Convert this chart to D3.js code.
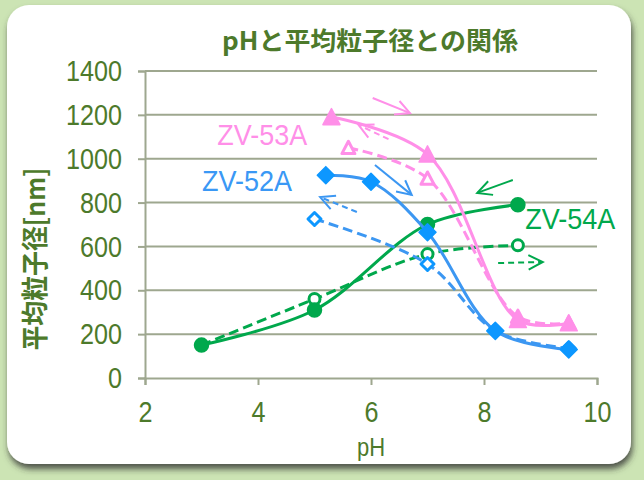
<!DOCTYPE html>
<html>
<head>
<meta charset="utf-8">
<script src="https://cdn.jsdelivr.net/npm/d3@7/dist/d3.min.js"></script>
<style>
  html, body { margin: 0; padding: 0; background: #cce4b4; }
  svg { display: block; }
</style>
</head>
<body>
<svg id="chart" width="644" height="480"></svg>
<script>
// ---- measured particle size (nm) versus pH ----
const phZV53A      = [5.3, 7.0, 8.6, 9.5];
const sizeZV53A    = [1190, 1020, 265, 250];
const phZV53Aopen  = [5.6, 7.0, 8.6, 9.5];
const sizeZV53Aopen = [1050, 910, 280, 250];

const phZV52A      = [5.2, 6.0, 7.0, 8.2, 9.5];
const sizeZV52A    = [925, 895, 665, 215, 130];
const phZV52Aopen  = [5.0, 7.0, 8.2, 9.5];
const sizeZV52Aopen = [725, 520, 215, 135];

const phZV54A      = [3.0, 5.0, 7.0, 8.6];
const sizeZV54A    = [150, 310, 700, 790];
const phZV54Aopen  = [3.0, 5.0, 7.0, 8.6];
const sizeZV54Aopen = [150, 360, 565, 605];

const xTicks = [2, 4, 6, 8, 10];
const yTicks = [0, 200, 400, 600, 800, 1000, 1200, 1400];

const titleText = "pHと平均粒子径との関係";
const xTitle = "pH";
const yTitle = "平均粒子径[nm]";

// ---- drawing ----
const svg = d3.select("#chart");
const W = 644, H = 480;
const green = "#4d7a2b";
const gridColor = "#9ea78f";
const PINK = "#ff8fe8", BLUE_LINE = "#3c97f2", BLUE_MARK = "#0d97ff", GREEN = "#00a84c";

const defs = svg.append("defs");
const f = defs.append("filter").attr("id", "panelShadow")
  .attr("x", "-5%").attr("y", "-5%").attr("width", "110%").attr("height", "115%");
f.append("feDropShadow").attr("dx", 1.5).attr("dy", 5).attr("stdDeviation", 3.2)
  .attr("flood-color", "#333").attr("flood-opacity", 0.8);

svg.append("rect").attr("width", W).attr("height", H).attr("fill", "#cce4b4");
svg.append("rect").attr("x", 7).attr("y", 5).attr("width", 624).attr("height", 459)
  .attr("rx", 22).attr("ry", 22).attr("fill", "#fff").attr("filter", "url(#panelShadow)");

const x = d3.scaleLinear().domain([2, 10]).range([145, 597]);
const y = d3.scaleLinear().domain([0, 1400]).range([378, 71]);

// horizontal gridlines
svg.append("g").selectAll("line").data(yTicks.filter(d => d > 0)).join("line")
  .attr("x1", x(2)).attr("x2", x(10))
  .attr("y1", d => y(d)).attr("y2", d => y(d))
  .attr("stroke", gridColor).attr("stroke-width", 2);

const squeeze = 0.84;

// y axis
const yAxis = svg.append("g").attr("transform", `translate(${x(2)},0)`)
  .call(d3.axisLeft(y).tickValues(yTicks).tickSize(7).tickPadding(16).tickFormat(d3.format("d")));
yAxis.select(".domain").attr("stroke", gridColor).attr("stroke-width", 2);
yAxis.selectAll(".tick line").attr("stroke", gridColor).attr("stroke-width", 2);
yAxis.selectAll(".tick text")
  .attr("fill", green).attr("font-family", "'Liberation Sans', Arial, sans-serif")
  .attr("font-size", 30)
  .attr("x", -23 / squeeze).attr("transform", `scale(${squeeze},1)`);

// x axis
const xAxis = svg.append("g").attr("transform", `translate(0,${y(0)})`)
  .call(d3.axisBottom(x).tickValues(xTicks).tickSize(7).tickPadding(16).tickFormat(d3.format("d")));
xAxis.select(".domain").attr("stroke", gridColor).attr("stroke-width", 2);
xAxis.selectAll(".tick line").attr("stroke", gridColor).attr("stroke-width", 2);
xAxis.selectAll(".tick text")
  .attr("fill", green).attr("font-family", "'Liberation Sans', Arial, sans-serif")
  .attr("font-size", 30).attr("transform", `scale(${squeeze},1)`);

// titles
svg.append("text").text(titleText)
  .attr("x", 222).attr("y", 50)
  .attr("font-family", "'Noto Sans CJK JP', sans-serif").attr("font-weight", "bold")
  .attr("font-size", 25).attr("fill", green)
  .attr("textLength", 296).attr("lengthAdjust", "spacingAndGlyphs");

svg.append("text").text(xTitle)
  .attr("transform", `translate(${x(6)},456) scale(0.88,1)`)
  .attr("text-anchor", "middle")
  .attr("font-family", "'Liberation Sans', Arial, sans-serif")
  .attr("font-size", 25).attr("fill", green);

svg.append("text").text(yTitle)
  .attr("transform", "translate(45,259) rotate(-90)")
  .attr("text-anchor", "middle")
  .attr("font-family", "'Noto Sans CJK JP', sans-serif").attr("font-weight", "bold")
  .attr("font-size", 27).attr("fill", green)
  .attr("textLength", 183).attr("lengthAdjust", "spacingAndGlyphs");

// ---- series ----
const line = d3.line().x(d => x(d[0])).y(d => y(d[1])).curve(d3.curveCatmullRom);
const zip = (a, b) => a.map((v, i) => [v, b[i]]);

const markers = {
  triangle: (r) => `M0,${-r} L${r},${r * 0.9} L${-r},${r * 0.9} Z`,
  diamond: (r) => `M0,${-r} L${r},0 L0,${r} L${-r},0 Z`,
  circle: (r) => `M${r},0 A${r},${r} 0 1,1 ${-r},0 A${r},${r} 0 1,1 ${r},0 Z`
};

const series = [
  { name: "ZV-54A open", pts: zip(phZV54Aopen, sizeZV54Aopen), color: GREEN, mark: GREEN, dash: "10,5", shape: "circle", open: true, r: 5.5 },
  { name: "ZV-54A", pts: zip(phZV54A, sizeZV54A), color: GREEN, mark: GREEN, dash: null, shape: "circle", open: false, r: 7 },
  { name: "ZV-52A open", pts: zip(phZV52Aopen, sizeZV52Aopen), color: BLUE_LINE, mark: BLUE_MARK, dash: "10,5", shape: "diamond", open: true, r: 6.5 },
  { name: "ZV-52A", pts: zip(phZV52A, sizeZV52A), color: BLUE_LINE, mark: BLUE_MARK, dash: null, shape: "diamond", open: false, r: 8.5 },
  { name: "ZV-53A open", pts: zip(phZV53Aopen, sizeZV53Aopen), color: PINK, mark: PINK, dash: "10,5", shape: "triangle", open: true, r: 6.5 },
  { name: "ZV-53A", pts: zip(phZV53A, sizeZV53A), color: PINK, mark: PINK, dash: null, shape: "triangle", open: false, r: 8.5 }
];

series.forEach(s => {
  const g = svg.append("g");
  g.append("path").attr("d", line(s.pts))
    .attr("fill", "none").attr("stroke", s.color).attr("stroke-width", 3)
    .attr("stroke-dasharray", s.dash);
  g.selectAll("path.m").data(s.pts).join("path").attr("class", "m")
    .attr("d", markers[s.shape](s.r))
    .attr("transform", d => `translate(${x(d[0])},${y(d[1])})`)
    .attr("fill", s.open ? "#fff" : s.mark)
    .attr("stroke", s.mark).attr("stroke-width", s.open ? 3 : 1.5)
    .attr("stroke-linejoin", "round");
});

// ---- direction arrows (pH, nm) ----
const arrows = [
  { from: [6.03, 1277], to: [6.69, 1208], color: PINK, dashed: false },
  { from: [6.31, 1089], to: [5.78, 1154], color: PINK, dashed: true },
  { from: [6.07, 971],  to: [6.72, 835],  color: BLUE_LINE, dashed: false },
  { from: [5.75, 757],  to: [5.10, 825],  color: BLUE_LINE, dashed: true },
  { from: [8.51, 903],  to: [7.88, 844],  color: GREEN, dashed: false },
  { from: [8.25, 524],  to: [9.04, 529],  color: GREEN, dashed: true }
];
const headLen = 16, headAng = 27 * Math.PI / 180;
arrows.forEach(a => {
  const x0 = x(a.from[0]), y0 = y(a.from[1]), x1 = x(a.to[0]), y1 = y(a.to[1]);
  const ang = Math.atan2(y1 - y0, x1 - x0);
  svg.append("line").attr("x1", x0).attr("y1", y0).attr("x2", x1).attr("y2", y1)
    .attr("stroke", a.color).attr("stroke-width", 2)
    .attr("stroke-dasharray", a.dashed ? "6,4" : null);
  const w1 = [x1 - headLen * Math.cos(ang - headAng), y1 - headLen * Math.sin(ang - headAng)];
  const w2 = [x1 - headLen * Math.cos(ang + headAng), y1 - headLen * Math.sin(ang + headAng)];
  svg.append("path").attr("d", `M${w1[0]},${w1[1]} L${x1},${y1} L${w2[0]},${w2[1]}`)
    .attr("fill", "none").attr("stroke", a.color).attr("stroke-width", 2)
    .attr("stroke-linejoin", "miter");
});

// ---- series labels (pH, nm of text start / baseline) ----
const labels = [
  { text: "ZV-53A", at: [3.28, 1062], color: PINK },
  { text: "ZV-52A", at: [3.01, 852],  color: "#3a98f5" },
  { text: "ZV-54A", at: [8.73, 680],  color: GREEN }
];
labels.forEach(l => {
  svg.append("text").text(l.text)
    .attr("x", x(l.at[0])).attr("y", y(l.at[1]))
    .attr("font-family", "'Liberation Sans', Arial, sans-serif")
    .attr("font-size", 30).attr("fill", l.color)
    .attr("textLength", 90).attr("lengthAdjust", "spacingAndGlyphs");
});
</script>
</body>
</html>
